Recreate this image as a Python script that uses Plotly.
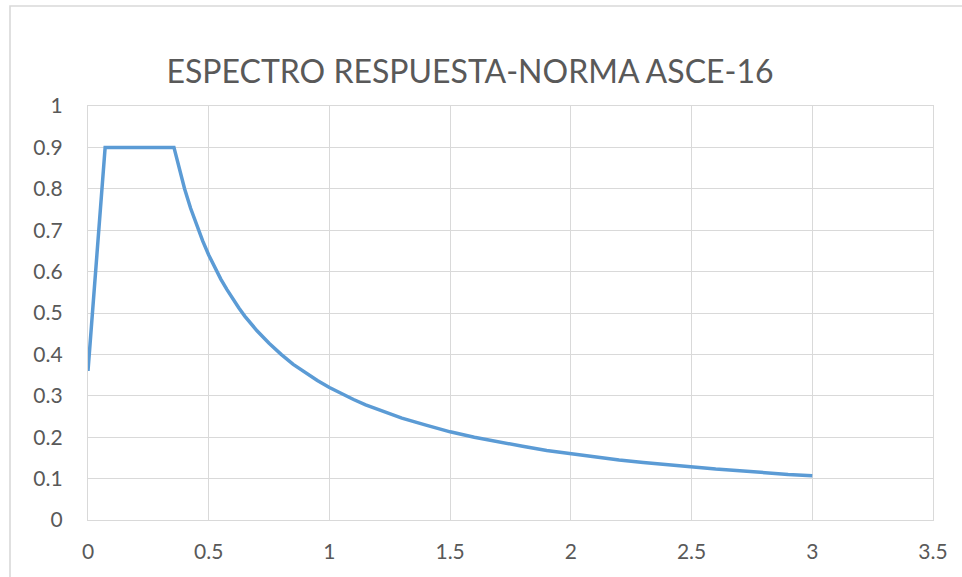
import plotly.graph_objects as go

# Response spectrum: period T (s) vs spectral acceleration Sa (g)
periodo = [0.0, 0.071, 0.356, 0.375, 0.40, 0.425, 0.45, 0.475, 0.50, 0.525,
           0.55, 0.575, 0.60, 0.625, 0.65, 0.70, 0.75, 0.80, 0.85, 0.90, 0.95,
           1.00, 1.05, 1.10, 1.15, 1.20, 1.30, 1.40, 1.50, 1.60, 1.70, 1.80,
           1.90, 2.00, 2.10, 2.20, 2.30, 2.40, 2.50, 2.60, 2.70, 2.80, 2.90,
           3.00]
sa = [0.36, 0.90, 0.90, 0.853, 0.80, 0.753, 0.711, 0.674, 0.64, 0.61,
      0.582, 0.557, 0.533, 0.512, 0.492, 0.457, 0.427, 0.40, 0.376, 0.356,
      0.337, 0.32, 0.305, 0.291, 0.278, 0.267, 0.246, 0.229, 0.213, 0.20,
      0.188, 0.178, 0.168, 0.16, 0.152, 0.145, 0.139, 0.133, 0.128, 0.123,
      0.119, 0.114, 0.110, 0.107]

titulo = "ESPECTRO RESPUESTA-NORMA ASCE-16"

W, H = 962, 577
L, R, T, B = 88, 29, 106, 57
pw, ph = W - L - R, H - T - B

fig = go.Figure()
fig.add_trace(go.Scatter(
    x=periodo, y=sa, mode="lines",
    line=dict(color="#5B9BD5", width=3.5),
    hoverinfo="x+y", showlegend=False,
))

grid = "#d9d9d9"
font_fam = "Lato, 'Open Sans', sans-serif"
fig.update_layout(
    width=W, height=H,
    margin=dict(l=L, r=R, t=T, b=B),
    paper_bgcolor="white", plot_bgcolor="white",
    title=dict(text=titulo, x=470 / W, xanchor="center",
               y=1 - 72 / H, yanchor="middle", yref="container",
               font=dict(family=font_fam, size=32, color="#595959")),
    xaxis=dict(range=[0, 3.5], dtick=0.5, tick0=0, showgrid=True,
               gridcolor=grid, gridwidth=1.3, zeroline=False,
               showline=True, linecolor=grid, linewidth=1.3, mirror=True,
               ticks="", ticklabelstandoff=13,
               tickfont=dict(family=font_fam, size=21, color="#595959")),
    yaxis=dict(range=[0, 1], dtick=0.1, tick0=0, showgrid=True,
               gridcolor=grid, gridwidth=1.3, zeroline=False,
               showline=True, linecolor=grid, linewidth=1.3, mirror=True,
               ticks="", ticklabelstandoff=20,
               tickfont=dict(family=font_fam, size=21, color="#595959")),
    shapes=[dict(type="rect", xref="paper", yref="paper",
                 x0=(10 - L) / pw, x1=1.2,
                 y0=-0.3, y1=(H - B - 6) / ph,
                 line=dict(color="#d9d9d9", width=1.6),
                 fillcolor="rgba(0,0,0,0)", layer="below")],
)

fig.write_html("out.html")
